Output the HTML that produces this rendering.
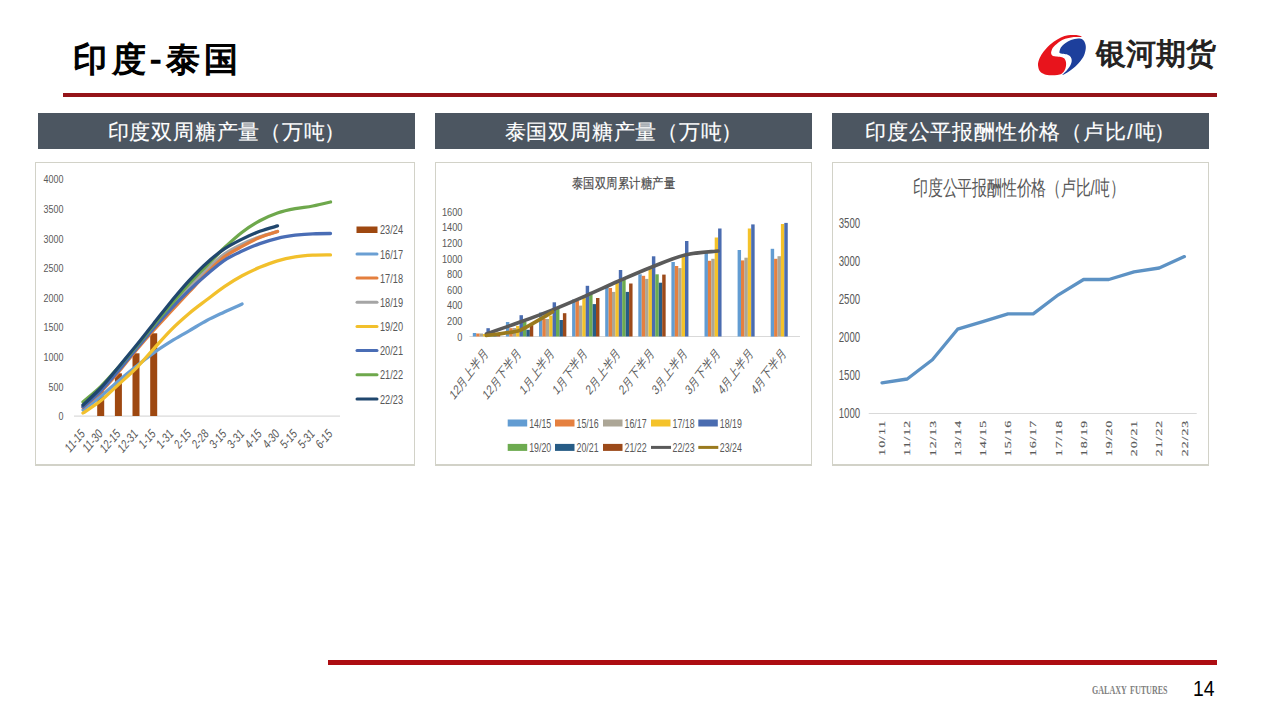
<!DOCTYPE html>
<html><head><meta charset="utf-8">
<style>
html,body{margin:0;padding:0;}
body{width:1280px;height:720px;position:relative;overflow:hidden;background:#fff;font-family:"Liberation Sans",sans-serif;}
.abs{position:absolute;}
#title{left:73px;top:37.3px;font-size:34px;letter-spacing:4.5px;color:#000;line-height:44px;white-space:nowrap;-webkit-text-stroke:1.3px #000;}
#redtop{left:63px;top:93px;width:1154px;height:4px;background:#951419;}
#redbot{left:328px;top:660px;width:889px;height:5px;background:#ad0d12;}
.hb{top:113px;height:36px;background:#4c5661;color:#fff;font-size:21px;letter-spacing:0.8px;line-height:38px;text-align:center;white-space:nowrap;-webkit-text-stroke:0.15px #fff;}
.lp{letter-spacing:1.2px;}
.rt{letter-spacing:-1.8px;}
.sl{letter-spacing:2px;}
.box{top:162px;height:304px;border:1px solid #d2d2c8;border-bottom-width:2px;box-sizing:border-box;background:#fff;}
#logotext{left:1096px;top:34px;font-size:30px;color:#231f20;line-height:40px;white-space:nowrap;-webkit-text-stroke:1px #231f20;}
#galaxy{left:1092px;top:683px;font-family:"Liberation Serif",serif;font-weight:bold;font-size:11.5px;color:#808080;white-space:nowrap;line-height:14px;transform:scaleX(0.70);transform-origin:0 0;word-spacing:2px;}
#pnum{left:1193px;top:676px;font-size:21.5px;color:#000;line-height:26px;transform:scaleX(0.9);transform-origin:0 0;}
.t1{font-size:11.5px;fill:#595959;font-family:"Liberation Sans",sans-serif;}
.t2{font-size:10.5px;fill:#595959;font-family:"Liberation Sans",sans-serif;}
.t2t{font-size:11.5px;fill:#4a4a4a;font-family:"Liberation Sans",sans-serif;stroke:#4a4a4a;stroke-width:0.15px;}
.t2c{font-size:10.5px;fill:#595959;font-family:"Liberation Sans",sans-serif;}
.t3{font-size:11.5px;fill:#595959;font-family:"Liberation Sans",sans-serif;}
.t3t{font-size:15px;fill:#595959;font-family:"Liberation Sans",sans-serif;}
.t3x{font-size:14.3px;fill:#5a5a5a;stroke:#5a5a5a;stroke-width:0.25px;letter-spacing:1px;font-family:"Liberation Serif",serif;}
</style></head>
<body>
<div id="title" class="abs">印度-泰国</div>
<div id="redtop" class="abs"></div>
<div class="abs hb" style="left:38px;width:377px;">印度双周糖产量<span class="lp">（</span>万<span class="rt">吨</span>）</div>
<div class="abs hb" style="left:435px;width:377px;">泰国双周糖产量<span class="lp">（</span>万<span class="rt">吨</span>）</div>
<div class="abs hb" style="left:832px;width:377px;">印度公平报酬性价格<span class="lp">（</span>卢比<span class="sl">/</span><span class="rt">吨</span>）</div>
<div class="abs box" style="left:35px;width:380px;"></div>
<div class="abs box" style="left:435px;width:377px;"></div>
<div class="abs box" style="left:832px;width:377px;"></div>
<svg class="abs" style="left:1032px;top:28px;" width="60" height="52" viewBox="0 0 831 720">
<path fill="#e8141c" d="M690,122 C697,117 632,101 600,98 C568,95 533,97 500,102 C467,107 433,115 400,130 C367,145 333,165 300,190 C267,215 228,250 200,280 C172,310 148,340 130,370 C112,400 98,433 90,460 C82,487 82,507 85,530 C88,553 96,582 110,600 C124,618 145,631 170,640 C195,649 230,653 260,655 C290,657 325,653 350,650 C375,647 393,645 410,635 C427,625 440,608 450,590 C460,572 467,550 470,530 C473,510 474,488 470,470 C466,452 457,432 445,420 C433,408 419,404 400,400 C381,396 349,398 330,395 C311,392 296,392 285,385 C274,378 267,364 265,350 C263,336 268,317 275,300 C282,283 292,268 310,250 C328,232 355,207 380,190 C405,173 430,160 460,150 C490,140 522,133 560,128 C598,123 683,127 690,122Z"/>
<path fill="#1d3f9c" d="M380,330 C382,318 387,290 400,270 C413,250 437,228 460,210 C483,192 510,176 540,165 C570,154 613,146 640,145 C667,144 684,149 700,160 C716,171 728,190 735,210 C742,230 748,252 745,280 C742,308 734,348 720,380 C706,412 683,442 660,470 C637,498 607,527 580,550 C553,573 527,593 500,610 C473,627 423,655 420,652 C417,649 462,612 480,590 C498,568 518,543 530,520 C542,497 550,471 550,450 C550,429 542,409 530,395 C518,381 498,372 480,365 C462,358 436,358 420,355 C404,352 392,349 385,345 C378,341 378,342 380,330Z"/>
</svg>
<svg class="abs" style="left:0;top:0;" width="1280" height="720" viewBox="0 0 1280 720">
<text class="t1" transform="translate(63.5,420.2) scale(0.78,1)" text-anchor="end">0</text>
<text class="t1" transform="translate(63.5,390.6) scale(0.78,1)" text-anchor="end">500</text>
<text class="t1" transform="translate(63.5,361) scale(0.78,1)" text-anchor="end">1000</text>
<text class="t1" transform="translate(63.5,331.4) scale(0.78,1)" text-anchor="end">1500</text>
<text class="t1" transform="translate(63.5,301.8) scale(0.78,1)" text-anchor="end">2000</text>
<text class="t1" transform="translate(63.5,272.2) scale(0.78,1)" text-anchor="end">2500</text>
<text class="t1" transform="translate(63.5,242.6) scale(0.78,1)" text-anchor="end">3000</text>
<text class="t1" transform="translate(63.5,213) scale(0.78,1)" text-anchor="end">3500</text>
<text class="t1" transform="translate(63.5,183.4) scale(0.78,1)" text-anchor="end">4000</text>
<rect x="74" y="415.5" width="266" height="1.2" fill="#d9d9d9"/>
<text class="t1" transform="translate(85.6,434.6) scale(1,1.18) rotate(-45) scale(0.78,1)" text-anchor="end">11-15</text>
<text class="t1" transform="translate(103.3,434.6) scale(1,1.18) rotate(-45) scale(0.78,1)" text-anchor="end">11-30</text>
<text class="t1" transform="translate(121,434.6) scale(1,1.18) rotate(-45) scale(0.78,1)" text-anchor="end">12-15</text>
<text class="t1" transform="translate(138.6,434.6) scale(1,1.18) rotate(-45) scale(0.78,1)" text-anchor="end">12-31</text>
<text class="t1" transform="translate(156.3,434.6) scale(1,1.18) rotate(-45) scale(0.78,1)" text-anchor="end">1-15</text>
<text class="t1" transform="translate(174,434.6) scale(1,1.18) rotate(-45) scale(0.78,1)" text-anchor="end">1-31</text>
<text class="t1" transform="translate(191.7,434.6) scale(1,1.18) rotate(-45) scale(0.78,1)" text-anchor="end">2-15</text>
<text class="t1" transform="translate(209.4,434.6) scale(1,1.18) rotate(-45) scale(0.78,1)" text-anchor="end">2-28</text>
<text class="t1" transform="translate(227,434.6) scale(1,1.18) rotate(-45) scale(0.78,1)" text-anchor="end">3-15</text>
<text class="t1" transform="translate(244.7,434.6) scale(1,1.18) rotate(-45) scale(0.78,1)" text-anchor="end">3-31</text>
<text class="t1" transform="translate(262.4,434.6) scale(1,1.18) rotate(-45) scale(0.78,1)" text-anchor="end">4-15</text>
<text class="t1" transform="translate(280.1,434.6) scale(1,1.18) rotate(-45) scale(0.78,1)" text-anchor="end">4-30</text>
<text class="t1" transform="translate(297.8,434.6) scale(1,1.18) rotate(-45) scale(0.78,1)" text-anchor="end">5-15</text>
<text class="t1" transform="translate(315.4,434.6) scale(1,1.18) rotate(-45) scale(0.78,1)" text-anchor="end">5-31</text>
<text class="t1" transform="translate(333.1,434.6) scale(1,1.18) rotate(-45) scale(0.78,1)" text-anchor="end">6-15</text>
<rect x="97.2" y="391.3" width="7" height="24.7" fill="#9e4810"/>
<rect x="114.9" y="373.3" width="7" height="42.7" fill="#9e4810"/>
<rect x="132.5" y="353.3" width="7" height="62.7" fill="#9e4810"/>
<rect x="150.2" y="333.3" width="7" height="82.7" fill="#9e4810"/>
<path d="M83,410 C85.9,407.7 94.8,401.3 100.7,396.4 C106.6,391.6 112.5,385.9 118.4,380.9 C124.3,375.9 130.1,371.2 136,366.5 C141.9,361.8 147.8,357 153.7,352.8 C159.6,348.6 165.5,344.9 171.4,341.2 C177.3,337.6 183.2,334.3 189.1,330.8 C195,327.4 200.9,323.6 206.8,320.5 C212.7,317.4 218.5,314.8 224.4,312 C230.3,309.2 239.2,305.3 242.1,304" fill="none" stroke="#6a9fd3" stroke-width="3.3" stroke-linecap="round" stroke-linejoin="round"/>
<path d="M83,406 C85.9,403.3 94.8,396 100.7,390 C106.6,384 112.5,376.8 118.4,369.8 C124.3,362.8 130.1,355.3 136,348.1 C141.9,340.9 147.8,333.6 153.7,326.7 C159.6,319.7 165.5,312.8 171.4,306.2 C177.3,299.7 183.2,293.3 189.1,287.2 C195,281 200.9,274.8 206.8,269.3 C212.7,263.8 218.5,258.3 224.4,254.1 C230.3,249.9 236.2,247 242.1,244.2 C248,241.3 253.9,239 259.8,236.9 C265.7,234.8 274.5,232.4 277.5,231.5" fill="none" stroke="#a5a5a5" stroke-width="3.3" stroke-linecap="round" stroke-linejoin="round"/>
<path d="M83,407.5 C85.9,404.9 94.8,397.9 100.7,392 C106.6,386.1 112.5,379.1 118.4,372.2 C124.3,365.2 130.1,357.4 136,350.4 C141.9,343.4 147.8,336.7 153.7,330.2 C159.6,323.6 165.5,317.4 171.4,311 C177.3,304.6 183.2,298.3 189.1,292 C195,285.7 200.9,279.1 206.8,273.2 C212.7,267.4 218.5,261.4 224.4,256.9 C230.3,252.4 236.2,249.6 242.1,246.4 C248,243.1 253.9,240 259.8,237.5 C265.7,235 274.5,232.5 277.5,231.5" fill="none" stroke="#e47f3e" stroke-width="3.3" stroke-linecap="round" stroke-linejoin="round"/>
<path d="M83,413 C85.9,411 94.8,405.6 100.7,400.8 C106.6,396.1 112.5,390 118.4,384.6 C124.3,379.2 130.1,374.4 136,368.4 C141.9,362.4 147.8,355.2 153.7,348.8 C159.6,342.3 165.5,335.5 171.4,329.6 C177.3,323.7 183.2,318.5 189.1,313.5 C195,308.5 200.9,304.3 206.8,299.8 C212.7,295.3 218.5,290.6 224.4,286.6 C230.3,282.6 236.2,279 242.1,275.8 C248,272.6 253.9,269.8 259.8,267.3 C265.7,264.8 271.6,262.5 277.5,260.8 C283.4,259 289.3,257.8 295.2,256.9 C301.1,255.9 306.9,255.5 312.8,255.2 C318.7,254.8 327.6,254.9 330.5,254.9" fill="none" stroke="#f2c02c" stroke-width="3.3" stroke-linecap="round" stroke-linejoin="round"/>
<path d="M83,407 C85.9,404.3 94.8,397 100.7,391 C106.6,385 112.5,377.8 118.4,370.8 C124.3,363.9 130.1,356.3 136,349.2 C141.9,342.1 147.8,335 153.7,328.2 C159.6,321.4 165.5,314.6 171.4,308.3 C177.3,302 183.2,296.1 189.1,290.4 C195,284.8 200.9,279.6 206.8,274.6 C212.7,269.5 218.5,264.2 224.4,260.3 C230.3,256.3 236.2,253.8 242.1,251 C248,248.2 253.9,245.7 259.8,243.6 C265.7,241.4 271.6,239.7 277.5,238.3 C283.4,236.9 289.3,236 295.2,235.2 C301.1,234.5 306.9,234 312.8,233.8 C318.7,233.5 327.6,233.5 330.5,233.5" fill="none" stroke="#4a6db5" stroke-width="3.3" stroke-linecap="round" stroke-linejoin="round"/>
<path d="M83,402 C85.9,399.4 94.8,392.3 100.7,386.6 C106.6,380.8 112.5,374.1 118.4,367.4 C124.3,360.8 130.1,353.8 136,346.8 C141.9,339.7 147.8,332.3 153.7,325.2 C159.6,318 165.5,310.9 171.4,304 C177.3,297.1 183.2,290 189.1,283.6 C195,277.2 200.9,271.4 206.8,265.5 C212.7,259.5 218.5,253.4 224.4,247.8 C230.3,242.3 236.2,236.8 242.1,232.3 C248,227.8 253.9,224 259.8,220.8 C265.7,217.6 271.6,215 277.5,213 C283.4,211 289.3,209.8 295.2,208.7 C301.1,207.5 306.9,207.2 312.8,206 C318.7,204.9 327.6,202.7 330.5,202" fill="none" stroke="#6ea84c" stroke-width="3.3" stroke-linecap="round" stroke-linejoin="round"/>
<path d="M83,405 C85.9,402.2 94.8,394.3 100.7,388 C106.6,381.7 112.5,374.2 118.4,367.2 C124.3,360.1 130.1,353 136,345.8 C141.9,338.5 147.8,330.9 153.7,323.5 C159.6,316.1 165.5,308.4 171.4,301.2 C177.3,294.1 183.2,286.9 189.1,280.6 C195,274.2 200.9,268.1 206.8,262.9 C212.7,257.6 218.5,252.8 224.4,248.9 C230.3,244.9 236.2,242.1 242.1,239.1 C248,236.2 253.9,233.5 259.8,231.3 C265.7,229.1 274.5,226.8 277.5,225.9" fill="none" stroke="#20476e" stroke-width="3.3" stroke-linecap="round" stroke-linejoin="round"/>
<rect x="356.5" y="226.5" width="21" height="6.5" fill="#9e4810"/>
<text class="t1" transform="translate(380,234.4) scale(0.8,1.1)">23/24</text>
<rect x="355.5" y="252.5" width="23" height="3" rx="1.5" fill="#6a9fd3"/>
<text class="t1" transform="translate(380,258.6) scale(0.8,1.1)">16/17</text>
<rect x="355.5" y="276.6" width="23" height="3" rx="1.5" fill="#e47f3e"/>
<text class="t1" transform="translate(380,282.7) scale(0.8,1.1)">17/18</text>
<rect x="355.5" y="300.8" width="23" height="3" rx="1.5" fill="#a5a5a5"/>
<text class="t1" transform="translate(380,306.9) scale(0.8,1.1)">18/19</text>
<rect x="355.5" y="324.9" width="23" height="3" rx="1.5" fill="#f2c02c"/>
<text class="t1" transform="translate(380,331) scale(0.8,1.1)">19/20</text>
<rect x="355.5" y="349.1" width="23" height="3" rx="1.5" fill="#4a6db5"/>
<text class="t1" transform="translate(380,355.2) scale(0.8,1.1)">20/21</text>
<rect x="355.5" y="373.2" width="23" height="3" rx="1.5" fill="#6ea84c"/>
<text class="t1" transform="translate(380,379.3) scale(0.8,1.1)">21/22</text>
<rect x="355.5" y="397.4" width="23" height="3" rx="1.5" fill="#20476e"/>
<text class="t1" transform="translate(380,403.5) scale(0.8,1.1)">22/23</text>
<text class="t2t" transform="translate(623.5,187.6) scale(1,1.24)" text-anchor="middle">泰国双周累计糖产量</text>
<text class="t2" transform="translate(462.5,340.6) scale(0.88,1.1)" text-anchor="end">0</text>
<text class="t2" transform="translate(462.5,325) scale(0.88,1.1)" text-anchor="end">200</text>
<text class="t2" transform="translate(462.5,309.4) scale(0.88,1.1)" text-anchor="end">400</text>
<text class="t2" transform="translate(462.5,293.8) scale(0.88,1.1)" text-anchor="end">600</text>
<text class="t2" transform="translate(462.5,278.2) scale(0.88,1.1)" text-anchor="end">800</text>
<text class="t2" transform="translate(462.5,262.6) scale(0.88,1.1)" text-anchor="end">1000</text>
<text class="t2" transform="translate(462.5,247) scale(0.88,1.1)" text-anchor="end">1200</text>
<text class="t2" transform="translate(462.5,231.4) scale(0.88,1.1)" text-anchor="end">1400</text>
<text class="t2" transform="translate(462.5,215.8) scale(0.88,1.1)" text-anchor="end">1600</text>
<rect x="469.4" y="336" width="330.6" height="1" fill="#d9d9d9"/>
<rect x="472.8" y="333" width="3.45" height="3.5" fill="#629cd2"/>
<rect x="476.2" y="333.5" width="3.45" height="3" fill="#e5803f"/>
<rect x="479.6" y="333.5" width="3.45" height="3" fill="#aca696"/>
<rect x="483" y="334" width="3.45" height="2.5" fill="#f4c22a"/>
<rect x="486.4" y="328.2" width="3.45" height="8.3" fill="#4a6cb0"/>
<rect x="489.9" y="334.5" width="3.45" height="2" fill="#6dab50"/>
<rect x="493.3" y="335" width="3.45" height="1.5" fill="#275c86"/>
<rect x="496.7" y="335" width="3.45" height="1.5" fill="#9c4a1a"/>
<rect x="505.9" y="322" width="3.45" height="14.5" fill="#629cd2"/>
<rect x="509.3" y="328.2" width="3.45" height="8.3" fill="#e5803f"/>
<rect x="512.7" y="328" width="3.45" height="8.5" fill="#aca696"/>
<rect x="516.1" y="325.9" width="3.45" height="10.6" fill="#f4c22a"/>
<rect x="519.5" y="315.2" width="3.45" height="21.3" fill="#4a6cb0"/>
<rect x="523" y="322" width="3.45" height="14.5" fill="#6dab50"/>
<rect x="526.4" y="329.8" width="3.45" height="6.7" fill="#275c86"/>
<rect x="529.8" y="325.1" width="3.45" height="11.4" fill="#9c4a1a"/>
<rect x="539" y="312.5" width="3.45" height="24" fill="#629cd2"/>
<rect x="542.4" y="319" width="3.45" height="17.5" fill="#e5803f"/>
<rect x="545.8" y="319" width="3.45" height="17.5" fill="#aca696"/>
<rect x="549.2" y="315.6" width="3.45" height="20.9" fill="#f4c22a"/>
<rect x="552.6" y="302.3" width="3.45" height="34.2" fill="#4a6cb0"/>
<rect x="556" y="309" width="3.45" height="27.5" fill="#6dab50"/>
<rect x="559.5" y="320" width="3.45" height="16.5" fill="#275c86"/>
<rect x="562.9" y="313.2" width="3.45" height="23.3" fill="#9c4a1a"/>
<rect x="572.1" y="299.5" width="3.45" height="37" fill="#629cd2"/>
<rect x="575.5" y="301" width="3.45" height="35.5" fill="#e5803f"/>
<rect x="578.9" y="305.6" width="3.45" height="30.9" fill="#aca696"/>
<rect x="582.3" y="295.7" width="3.45" height="40.8" fill="#f4c22a"/>
<rect x="585.7" y="285.8" width="3.45" height="50.7" fill="#4a6cb0"/>
<rect x="589.1" y="291.9" width="3.45" height="44.6" fill="#6dab50"/>
<rect x="592.6" y="304.1" width="3.45" height="32.4" fill="#275c86"/>
<rect x="596" y="298" width="3.45" height="38.5" fill="#9c4a1a"/>
<rect x="605.2" y="285" width="3.45" height="51.5" fill="#629cd2"/>
<rect x="608.6" y="288" width="3.45" height="48.5" fill="#e5803f"/>
<rect x="612" y="291.9" width="3.45" height="44.6" fill="#aca696"/>
<rect x="615.4" y="281.2" width="3.45" height="55.3" fill="#f4c22a"/>
<rect x="618.8" y="270" width="3.45" height="66.5" fill="#4a6cb0"/>
<rect x="622.2" y="279.7" width="3.45" height="56.8" fill="#6dab50"/>
<rect x="625.7" y="291.9" width="3.45" height="44.6" fill="#275c86"/>
<rect x="629.1" y="283.5" width="3.45" height="53" fill="#9c4a1a"/>
<rect x="638.3" y="274.3" width="3.45" height="62.2" fill="#629cd2"/>
<rect x="641.7" y="275.8" width="3.45" height="60.7" fill="#e5803f"/>
<rect x="645.1" y="278.9" width="3.45" height="57.6" fill="#aca696"/>
<rect x="648.5" y="266.7" width="3.45" height="69.8" fill="#f4c22a"/>
<rect x="651.9" y="256.3" width="3.45" height="80.2" fill="#4a6cb0"/>
<rect x="655.3" y="274.3" width="3.45" height="62.2" fill="#6dab50"/>
<rect x="658.8" y="282.7" width="3.45" height="53.8" fill="#275c86"/>
<rect x="662.2" y="274.6" width="3.45" height="61.9" fill="#9c4a1a"/>
<rect x="671.4" y="262" width="3.45" height="74.5" fill="#629cd2"/>
<rect x="674.8" y="266" width="3.45" height="70.5" fill="#e5803f"/>
<rect x="678.2" y="268.1" width="3.45" height="68.4" fill="#aca696"/>
<rect x="681.6" y="255.6" width="3.45" height="80.9" fill="#f4c22a"/>
<rect x="685" y="241" width="3.45" height="95.5" fill="#4a6cb0"/>
<rect x="704.5" y="252.5" width="3.45" height="84" fill="#629cd2"/>
<rect x="707.9" y="260.8" width="3.45" height="75.7" fill="#e5803f"/>
<rect x="711.3" y="258.8" width="3.45" height="77.8" fill="#aca696"/>
<rect x="714.7" y="237.5" width="3.45" height="99" fill="#f4c22a"/>
<rect x="718.1" y="228.5" width="3.45" height="108" fill="#4a6cb0"/>
<rect x="737.6" y="250" width="3.45" height="86.5" fill="#629cd2"/>
<rect x="741" y="260.4" width="3.45" height="76.1" fill="#e5803f"/>
<rect x="744.4" y="257.7" width="3.45" height="78.8" fill="#aca696"/>
<rect x="747.8" y="228.5" width="3.45" height="108" fill="#f4c22a"/>
<rect x="751.2" y="224.4" width="3.45" height="112.1" fill="#4a6cb0"/>
<rect x="770.7" y="248.8" width="3.45" height="87.8" fill="#629cd2"/>
<rect x="774.1" y="258.8" width="3.45" height="77.8" fill="#e5803f"/>
<rect x="777.5" y="256.2" width="3.45" height="80.2" fill="#aca696"/>
<rect x="780.9" y="224" width="3.45" height="112.5" fill="#f4c22a"/>
<rect x="784.3" y="222.9" width="3.45" height="113.6" fill="#4a6cb0"/>
<path d="M486.4,333.9 C491.9,332 508.5,326.3 519.5,322.3 C530.5,318.3 541.6,314.2 552.6,309.8 C563.6,305.4 574.7,300.6 585.7,295.8 C596.7,291 607.8,285.8 618.8,281 C629.8,276.2 640.9,271.3 651.9,267 C662.9,262.7 674,257.7 685,255 C696,252.3 712.6,251.7 718.1,251" fill="none" stroke="#5a5a5a" stroke-width="3.6" stroke-linecap="round"/>
<path d="M486.4,335.5 C489.2,335.1 514,332.5 519.5,330.5 C525,328.5 549.8,313.5 552.6,312" fill="none" stroke="#9a7a1e" stroke-width="3.6" stroke-linecap="round"/>
<text class="t2c" transform="translate(488.9,354) scale(1,1.33) rotate(-45) scale(0.91,1)" text-anchor="end">12月上半月</text>
<text class="t2c" transform="translate(522,354) scale(1,1.33) rotate(-45) scale(0.91,1)" text-anchor="end">12月下半月</text>
<text class="t2c" transform="translate(555.1,354) scale(1,1.33) rotate(-45) scale(0.91,1)" text-anchor="end">1月上半月</text>
<text class="t2c" transform="translate(588.2,354) scale(1,1.33) rotate(-45) scale(0.91,1)" text-anchor="end">1月下半月</text>
<text class="t2c" transform="translate(621.3,354) scale(1,1.33) rotate(-45) scale(0.91,1)" text-anchor="end">2月上半月</text>
<text class="t2c" transform="translate(654.4,354) scale(1,1.33) rotate(-45) scale(0.91,1)" text-anchor="end">2月下半月</text>
<text class="t2c" transform="translate(687.5,354) scale(1,1.33) rotate(-45) scale(0.91,1)" text-anchor="end">3月上半月</text>
<text class="t2c" transform="translate(720.6,354) scale(1,1.33) rotate(-45) scale(0.91,1)" text-anchor="end">3月下半月</text>
<text class="t2c" transform="translate(753.7,354) scale(1,1.33) rotate(-45) scale(0.91,1)" text-anchor="end">4月上半月</text>
<text class="t2c" transform="translate(786.8,354) scale(1,1.33) rotate(-45) scale(0.91,1)" text-anchor="end">4月下半月</text>
<rect x="507.7" y="419.5" width="19.5" height="7" fill="#629cd2"/>
<text class="t2" transform="translate(529.2,427.6) scale(0.84,1.22)">14/15</text>
<rect x="555" y="419.5" width="19.5" height="7" fill="#e5803f"/>
<text class="t2" transform="translate(576.5,427.6) scale(0.84,1.22)">15/16</text>
<rect x="603" y="419.5" width="19.5" height="7" fill="#aca696"/>
<text class="t2" transform="translate(624.5,427.6) scale(0.84,1.22)">16/17</text>
<rect x="651" y="419.5" width="19.5" height="7" fill="#f4c22a"/>
<text class="t2" transform="translate(672.5,427.6) scale(0.84,1.22)">17/18</text>
<rect x="698.3" y="419.5" width="19.5" height="7" fill="#4a6cb0"/>
<text class="t2" transform="translate(719.8,427.6) scale(0.84,1.22)">18/19</text>
<rect x="507.7" y="443.9" width="19.5" height="7" fill="#6dab50"/>
<text class="t2" transform="translate(529.2,452) scale(0.84,1.22)">19/20</text>
<rect x="555" y="443.9" width="19.5" height="7" fill="#275c86"/>
<text class="t2" transform="translate(576.5,452) scale(0.84,1.22)">20/21</text>
<rect x="603" y="443.9" width="19.5" height="7" fill="#9c4a1a"/>
<text class="t2" transform="translate(624.5,452) scale(0.84,1.22)">21/22</text>
<rect x="651" y="445.9" width="20" height="3" fill="#5a5a5a"/>
<text class="t2" transform="translate(672.5,452) scale(0.84,1.22)">22/23</text>
<rect x="698.3" y="445.9" width="20" height="3" fill="#9a7a1e"/>
<text class="t2" transform="translate(719.8,452) scale(0.84,1.22)">23/24</text>
<text class="t3t" transform="translate(913,195.2) scale(1,1.4)">印度公平报酬性价格（卢比/吨）</text>
<text class="t3" transform="translate(860.2,417.7) scale(0.84,1.3)" text-anchor="end">1000</text>
<text class="t3" transform="translate(860.2,379.8) scale(0.84,1.3)" text-anchor="end">1500</text>
<text class="t3" transform="translate(860.2,341.9) scale(0.84,1.3)" text-anchor="end">2000</text>
<text class="t3" transform="translate(860.2,304) scale(0.84,1.3)" text-anchor="end">2500</text>
<text class="t3" transform="translate(860.2,266.1) scale(0.84,1.3)" text-anchor="end">3000</text>
<text class="t3" transform="translate(860.2,228.2) scale(0.84,1.3)" text-anchor="end">3500</text>
<rect x="868.7" y="413" width="328" height="1" fill="#d9d9d9"/>
<path d="M882,382.8 L907.2,379 L932.4,359.8 L957.6,329.2 L982.8,321.6 L1008,313.9 L1033.2,313.9 L1058.4,294.8 L1083.6,279.5 L1108.8,279.5 L1134,271.9 L1159.2,268 L1184.4,256.6" fill="none" stroke="#5d92c4" stroke-width="3.3" stroke-linecap="round" stroke-linejoin="round"/>
<text class="t3x" transform="translate(885.1,419.8) rotate(-90) scale(0.97,0.62)" text-anchor="end">10/11</text>
<text class="t3x" transform="translate(910.3,419.8) rotate(-90) scale(0.97,0.62)" text-anchor="end">11/12</text>
<text class="t3x" transform="translate(935.5,419.8) rotate(-90) scale(0.97,0.62)" text-anchor="end">12/13</text>
<text class="t3x" transform="translate(960.7,419.8) rotate(-90) scale(0.97,0.62)" text-anchor="end">13/14</text>
<text class="t3x" transform="translate(985.9,419.8) rotate(-90) scale(0.97,0.62)" text-anchor="end">14/15</text>
<text class="t3x" transform="translate(1011.1,419.8) rotate(-90) scale(0.97,0.62)" text-anchor="end">15/16</text>
<text class="t3x" transform="translate(1036.3,419.8) rotate(-90) scale(0.97,0.62)" text-anchor="end">16/17</text>
<text class="t3x" transform="translate(1061.5,419.8) rotate(-90) scale(0.97,0.62)" text-anchor="end">17/18</text>
<text class="t3x" transform="translate(1086.7,419.8) rotate(-90) scale(0.97,0.62)" text-anchor="end">18/19</text>
<text class="t3x" transform="translate(1111.9,419.8) rotate(-90) scale(0.97,0.62)" text-anchor="end">19/20</text>
<text class="t3x" transform="translate(1137.1,419.8) rotate(-90) scale(0.97,0.62)" text-anchor="end">20/21</text>
<text class="t3x" transform="translate(1162.3,419.8) rotate(-90) scale(0.97,0.62)" text-anchor="end">21/22</text>
<text class="t3x" transform="translate(1187.5,419.8) rotate(-90) scale(0.97,0.62)" text-anchor="end">22/23</text>
</svg>
<div id="logotext" class="abs">银河期货</div>
<div id="redbot" class="abs"></div>
<div id="galaxy" class="abs">GALAXY FUTURES</div>
<div id="pnum" class="abs">14</div>
</body></html>
